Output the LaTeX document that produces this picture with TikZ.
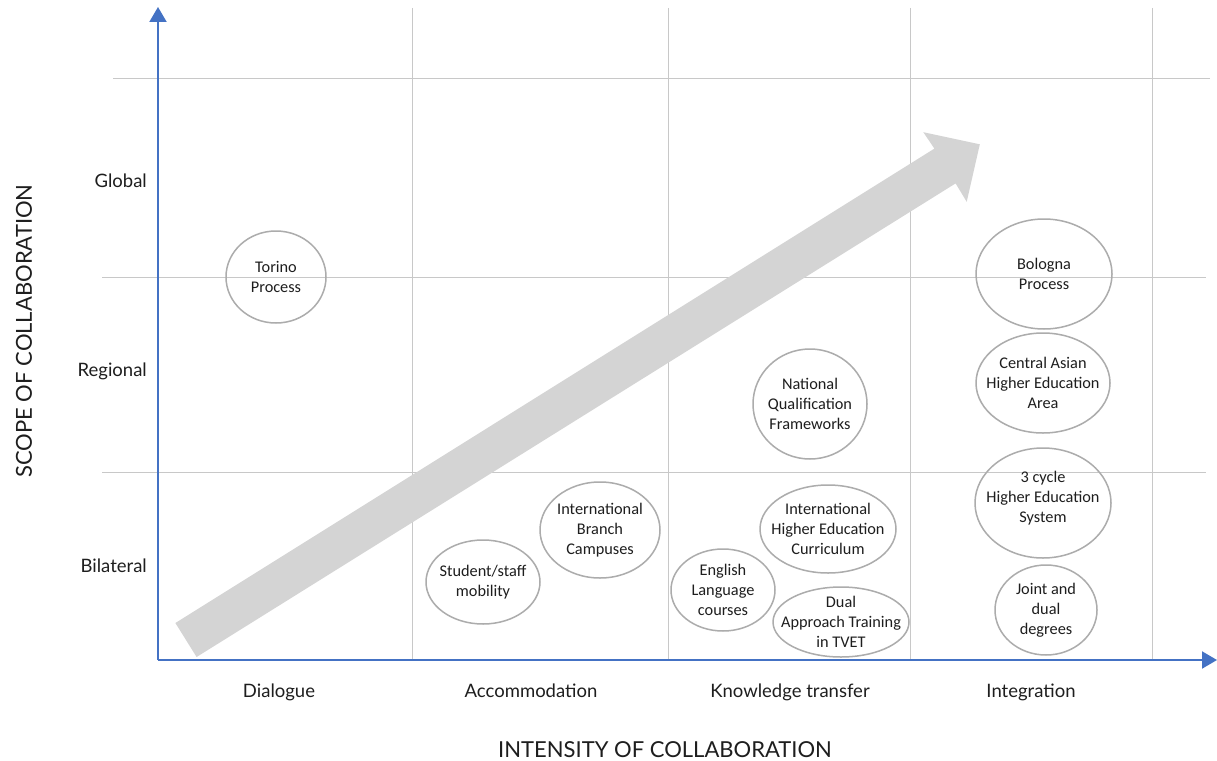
\documentclass[tikz,border=0pt]{standalone}
\usepackage{fontspec}
\setmainfont{Carlito}
\newfontfamily\gill{Lato}
\usetikzlibrary{shapes.geometric,arrows.meta}
\definecolor{axblue}{RGB}{68,114,196}
\definecolor{gridc}{RGB}{200,200,200}
\definecolor{ellc}{RGB}{172,172,172}
\definecolor{arrc}{RGB}{212,212,212}
\definecolor{txtc}{RGB}{30,30,30}
\tikzset{
  gridline/.style={draw=gridc, line width=1pt},
  axisline/.style={draw=axblue, line width=2pt, -{Triangle[length=15pt,width=17pt]}},
  bub/.style={ellipse, draw=ellc, line width=1.5pt, inner sep=0pt},
  btxt/.style={align=center, text=txtc, font=\fontsize{16.3}{20}\selectfont, inner sep=0pt},
  cat/.style={text=txtc, font=\gill\fontsize{18.5}{22}\selectfont, inner sep=0pt},
  ttl/.style={text=txtc, font=\gill\fontsize{22}{26}\selectfont, inner sep=0pt}
}
\begin{document}
\begin{tikzpicture}[x=1pt,y=-1pt]
\useasboundingbox (0,0) rectangle (1217,760);
\fill[white] (0,0) rectangle (1217,760);
% grid
\draw[gridline] (113,78) -- (1210,78);
\draw[gridline] (102,277) -- (1206,277);
\draw[gridline] (102,472) -- (1206,472);
\foreach \gx in {412,668,910,1152} \draw[gridline] (\gx,8) -- (\gx,660);
% big arrow
\fill[arrc] (175.4,623) -- (934.4,148.6) -- (923.3,132.2) -- (979.8,144.3)
  -- (966.7,201.8) -- (955.6,183.4) -- (196.6,657) -- cycle;
% axes
\coordinate (O) at (158,660);
\coordinate (ytip) at (158,7);
\coordinate (xtip) at (1217,660);
\draw[axisline] (O) -- (ytip);
\draw[axisline] (O) -- (xtip);
% bubbles
\node[bub, minimum width=100pt, minimum height=92pt] (torino) at (276,277) {};
\node[btxt] (torinot) at (torino) {Torino\\Process};
\node[bub, minimum width=136pt, minimum height=110pt] (bologna) at (1044,274) {};
\node[btxt] (bolognat) at (bologna) {Bologna\\Process};
\node[bub, minimum width=134pt, minimum height=100pt] (casia) at (1043,383) {};
\node[btxt] (casiat) at (casia) {Central Asian\\Higher Education\\Area};
\node[bub, minimum width=136pt, minimum height=110pt] (cycle) at (1043,503) {};
\node[btxt] (cyclet) at (1043,498) {3 cycle\\Higher Education\\System};
\node[bub, minimum width=102pt, minimum height=90pt] (joint) at (1046,610) {};
\node[btxt] (jointt) at (joint) {Joint and\\dual\\degrees};
\node[bub, minimum width=114pt, minimum height=110pt] (nqf) at (810,404) {};
\node[btxt] (nqft) at (nqf) {National\\Qualification\\Frameworks};
\node[bub, minimum width=136pt, minimum height=88pt] (ihec) at (828,529) {};
\node[btxt] (ihect) at (ihec) {International\\Higher Education\\Curriculum};
\node[bub, minimum width=104pt, minimum height=82pt] (english) at (723,590) {};
\node[btxt] (englisht) at (english) {English\\Language\\courses};
\node[bub, minimum width=136pt, minimum height=70pt] (dual) at (841,622) {};
\node[btxt] (dualt) at (dual) {Dual\\Approach Training\\in TVET};
\node[bub, minimum width=114pt, minimum height=84pt] (student) at (483,582) {};
\node[btxt] (studentt) at (student) {Student/staff\\mobility};
\node[bub, minimum width=120pt, minimum height=96pt] (ibc) at (600,530) {};
\node[btxt] (ibct) at (ibc) {International\\Branch\\Campuses};
% axis categories
\node[cat, anchor=base east] (glob) at (147,187) {Global};
\node[cat, anchor=base east] (reg) at (147,376) {Regional};
\node[cat, anchor=base east] (bil) at (147,572) {Bilateral};
\node[cat, anchor=base] (dia) at (279,697) {Dialogue};
\node[cat, anchor=base] (acc) at (531,697) {Accommodation};
\node[cat, anchor=base] (kno) at (790,697) {Knowledge transfer};
\node[cat, anchor=base] (int) at (1031,697) {Integration};
% titles
\node[ttl, anchor=base west] (xt) at (498,757) {INTENSITY OF COLLABORATION};
\node[ttl, rotate=90] (yt) at (24,331) {SCOPE OF COLLABORATION};
\end{tikzpicture}
\end{document}
